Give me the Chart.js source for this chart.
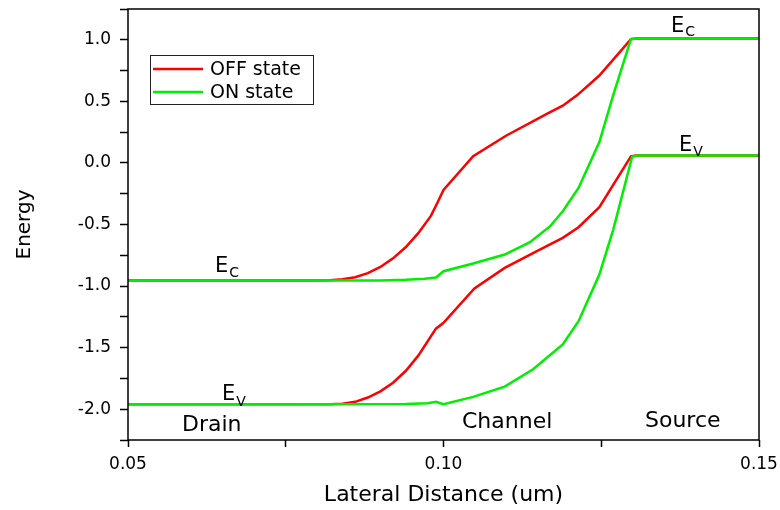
<!DOCTYPE html>
<html>
<head>
<meta charset="utf-8">
<script src="https://cdn.jsdelivr.net/npm/chart.js@4/dist/chart.umd.min.js"></script>
<style>
  body { margin: 0; background: #fff; }
  #wrap { width: 780px; height: 510px; }
</style>
</head>
<body>
<div id="wrap"><canvas id="bandChart" width="780" height="510"></canvas></div>
<script>
// band edges, x in um, energy in eV
const offEcX = [0.05, 0.080, 0.082, 0.084, 0.086, 0.088, 0.090, 0.092, 0.094, 0.096, 0.098, 0.0989, 0.1000, 0.1047, 0.1099, 0.1166, 0.1189, 0.1212, 0.1247, 0.1297, 0.1305, 0.15];
const offEcY = [-0.955, -0.955, -0.953, -0.945, -0.928, -0.895, -0.845, -0.775, -0.685, -0.57, -0.43, -0.338, -0.22, 0.054, 0.221, 0.405, 0.465, 0.551, 0.71, 1.005, 1.01, 1.01];

const offEvX = [0.05, 0.082, 0.084, 0.086, 0.088, 0.090, 0.092, 0.094, 0.096, 0.0988, 0.1000, 0.1049, 0.1097, 0.1148, 0.1189, 0.1214, 0.1247, 0.1297, 0.1305, 0.15];
const offEvY = [-1.96, -1.96, -1.955, -1.94, -1.905, -1.855, -1.785, -1.69, -1.565, -1.346, -1.298, -1.02, -0.852, -0.717, -0.608, -0.522, -0.36, 0.054, 0.06, 0.06];

const onEcX = [0.05, 0.090, 0.094, 0.097, 0.0988, 0.1000, 0.1047, 0.1097, 0.1137, 0.1169, 0.1189, 0.1214, 0.1247, 0.1269, 0.1297, 0.1305, 0.15];
const onEcY = [-0.955, -0.955, -0.949, -0.940, -0.930, -0.879, -0.817, -0.744, -0.644, -0.514, -0.392, -0.203, 0.17, 0.55, 1.005, 1.01, 1.01];

const onEvX = [0.05, 0.094, 0.0975, 0.0988, 0.1000, 0.1047, 0.1097, 0.1142, 0.1189, 0.1214, 0.1247, 0.1269, 0.1299, 0.1307, 0.15];
const onEvY = [-1.96, -1.958, -1.952, -1.94, -1.96, -1.90, -1.817, -1.676, -1.474, -1.285, -0.906, -0.541, 0.05, 0.06, 0.06];

const seriesNames = ["OFF state", "ON state"];
const xTicks = [0.05, 0.10, 0.15];

const RED = "#ff0000";
const GREEN = "#00ee00";
const FONT = "'DejaVu Sans', sans-serif";

function pts(xs, ys) {
  return xs.map((x, i) => ({ x: x, y: ys[i] }));
}

function bandSet(label, xs, ys, color, order) {
  return {
    label: label,
    data: pts(xs, ys),
    borderColor: color,
    backgroundColor: color,
    borderWidth: 2.5,
    pointRadius: 0,
    showLine: true,
    fill: false,
    tension: 0,
    order: order
  };
}

// legend box + text labels + frame
const extras = {
  id: "extras",
  afterDatasetsDraw(chart) {
    const ctx = chart.ctx;
    const a = chart.chartArea;
    ctx.save();

    // frame
    ctx.strokeStyle = "#000";
    ctx.lineWidth = 1.5;
    ctx.strokeRect(a.left, a.top, a.right - a.left, a.bottom - a.top);

    // legend
    ctx.lineWidth = 1;
    ctx.strokeStyle = "#222";
    ctx.strokeRect(150.5, 55.5, 163, 49);
    const rows = [[seriesNames[0], RED, 69], [seriesNames[1], GREEN, 92]];
    ctx.font = "19px " + FONT;
    ctx.textBaseline = "middle";
    ctx.textAlign = "left";
    rows.forEach(r => {
      ctx.strokeStyle = r[1];
      ctx.lineWidth = 2.5;
      ctx.beginPath();
      ctx.moveTo(153, r[2]);
      ctx.lineTo(203, r[2]);
      ctx.stroke();
      ctx.fillStyle = "#000";
      ctx.fillText(r[0], 210, r[2] + 1);
    });

    // band / region labels
    ctx.textBaseline = "alphabetic";
    ctx.fillStyle = "#000";
    function sub(main, s, x, y, dy) {
      ctx.font = "21px " + FONT;
      ctx.fillText(main, x, y);
      const w = ctx.measureText(main).width;
      ctx.font = "14px " + FONT;
      ctx.fillText(s, x + w + 1, y + dy);
    }
    sub("E", "C", 215, 272, 5);
    sub("E", "V", 222, 400, 6);
    sub("E", "C", 671, 32, 4);
    sub("E", "V", 679, 151, 5);

    ctx.font = "22px " + FONT;
    ctx.fillText("Drain", 182, 431);
    ctx.fillText("Channel", 462, 428);
    ctx.fillText("Source", 645, 427);
    ctx.restore();
  }
};

new Chart(document.getElementById("bandChart"), {
  type: "scatter",
  data: {
    datasets: [
      bandSet(seriesNames[0], offEcX, offEcY, RED, 2),
      bandSet(seriesNames[0], offEvX, offEvY, RED, 2),
      bandSet(seriesNames[1], onEcX, onEcY, GREEN, 1),
      bandSet(seriesNames[1], onEvX, onEvY, GREEN, 1)
    ]
  },
  options: {
    responsive: false,
    animation: false,
    layout: { padding: { top: 9, right: 21, left: 0, bottom: 0 } },
    scales: {
      x: {
        type: "linear",
        min: 0.05,
        max: 0.15,
        afterFit(scale) {
          scale.height = 70;
          scale.paddingLeft = 0;
          scale.paddingRight = 0;
        },
        afterBuildTicks(scale) {
          scale.ticks = [0.05, 0.075, 0.10, 0.125, 0.15].map(v => ({ value: v }));
        },
        grid: { drawOnChartArea: false, tickLength: 7, tickColor: "#000", tickWidth: 1.5 },
        border: { display: false },
        ticks: {
          color: "#000",
          padding: 7,
          maxRotation: 0,
          font: { family: FONT, size: 17 },
          callback: v => xTicks.some(t => Math.abs(t - v) < 1e-9) ? v.toFixed(2) : ""
        },
        title: {
          display: true,
          text: "Lateral Distance (um)",
          color: "#000",
          font: { family: FONT, size: 22 },
          padding: { top: 0, bottom: 2 }
        }
      },
      y: {
        min: -2.25,
        max: 1.25,
        afterFit(scale) {
          scale.width = 128;
          scale.paddingTop = 0;
          scale.paddingBottom = 0;
        },
        afterBuildTicks(scale) {
          const t = [];
          for (let i = 0; i <= 14; i++) t.push({ value: -2.25 + i * 0.25 });
          scale.ticks = t;
        },
        grid: { drawOnChartArea: false, tickLength: 8, tickColor: "#000", tickWidth: 1.5 },
        border: { display: false },
        ticks: {
          color: "#000",
          padding: 9,
          font: { family: FONT, size: 17 },
          callback: v => Math.abs(v * 2 - Math.round(v * 2)) < 1e-9 ? v.toFixed(1) : ""
        },
        title: {
          display: true,
          text: "Energy",
          color: "#000",
          font: { family: FONT, size: 20 },
          padding: { top: 13, bottom: 0 }
        }
      }
    },
    plugins: {
      legend: { display: false },
      tooltip: { enabled: false }
    }
  },
  plugins: [extras]
});
</script>
</body>
</html>
